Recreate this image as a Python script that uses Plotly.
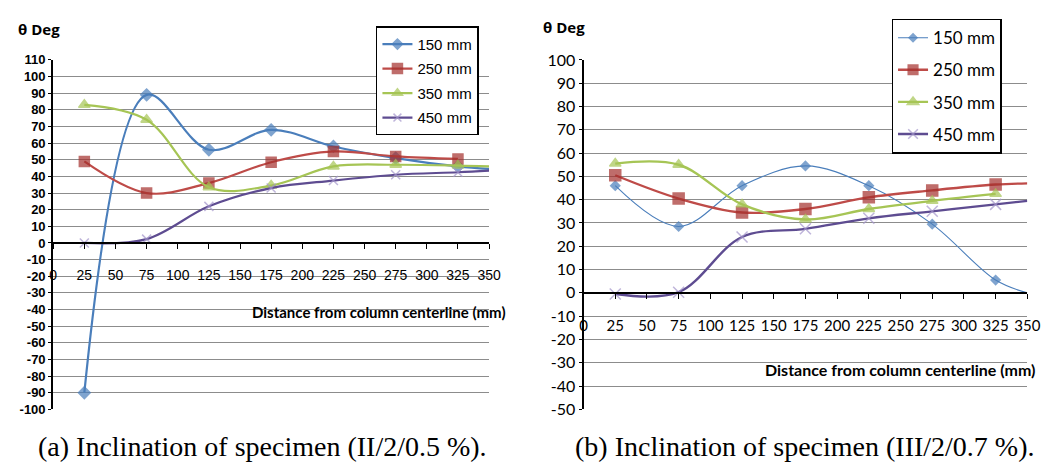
import plotly.graph_objects as go

# Distance from column centerline (mm)
dist = [25, 75, 125, 175, 225, 275, 325, 350]

# (a) specimen II/2/0.5 %  — inclination in degrees
a_150 = [-90, 89, 56, 68, 58, 51, 46, 44.5]
a_250 = [49, 30, 36, 48.5, 55, 52, 50.5]
a_350 = [83, 74, 33.5, 34.5, 46, 47, 46.5, 46]
a_450 = [0, 2.3, 22, 33, 37.5, 41, 42.5, 43.5]

# (b) specimen III/2/0.7 %
b_150 = [46, 28.5, 46, 54.5, 46, 29.5, 5.5, 0]
b_250 = [50.5, 40.5, 34.5, 36, 41, 44, 46.5, 47]
b_350 = [55.5, 55, 38, 31.5, 36, 39.5, 42.5]
b_450 = [-0.5, 0.3, 24, 27.5, 32, 35, 38, 39.5]

series_names = ["150 mm", "250 mm", "350 mm", "450 mm"]
x_ticks = list(range(0, 351, 25))
a_yticks = list(range(-100, 111, 10))
b_yticks = list(range(-50, 101, 10))
a_ylabels = [str(v) for v in a_yticks]
b_ylabels = [str(v) for v in b_yticks]

W, H = 1060, 475
BLUE, RED, GREEN, PURPLE = "#4A7EBB", "#BE4B48", "#A6C555", "#5E4C91"
RED_MK, PURPLE_MK = "#A5302D", "#A597CC"
ARIAL = "Liberation Sans, Arial, sans-serif"
SANS = "Lato, Open Sans, sans-serif"


def px_y(p):
    return 1 - p / H


def px_x(p):
    return p / W


def sizes(n_total, s, n_marked=7):
    # markers only at measured stations; the end point carries the line to the axis end
    return [s if i < n_marked else 0 for i in range(n_total)]


fig = go.Figure()

styles_a = [
    (a_150, BLUE, BLUE, "diamond", 9, 2.2),
    (a_250, RED, RED_MK, "square", 10, 2.2),
    (a_350, GREEN, GREEN, "triangle-up", 10, 2.2),
    (a_450, PURPLE, PURPLE_MK, "x-thin", 9, 2.2),
]
styles_b = [
    (b_150, BLUE, BLUE, "diamond", 7, 1.1),
    (b_250, RED, RED_MK, "square", 11, 2.4),
    (b_350, GREEN, GREEN, "triangle-up", 10, 2.4),
    (b_450, PURPLE, PURPLE_MK, "x-thin", 11, 2.4),
]

for name, (vals, lc, mc, sym, ms, lw) in zip(series_names, styles_a):
    fig.add_trace(go.Scatter(
        x=dist[:len(vals)], y=vals, name=name, mode="lines+markers",
        line=dict(color=lc, width=lw, shape="spline", smoothing=1.0),
        marker=dict(symbol=sym, color=mc, size=sizes(len(vals), ms),
                    line=dict(color=mc, width=1.5)),
        xaxis="x", yaxis="y", legend="legend", legendgroup="a" + name,
    ))

for name, (vals, lc, mc, sym, ms, lw) in zip(series_names, styles_b):
    fig.add_trace(go.Scatter(
        x=dist[:len(vals)], y=vals, name=name, mode="lines+markers",
        line=dict(color=lc, width=lw, shape="spline", smoothing=1.0),
        marker=dict(symbol=sym, color=mc, size=sizes(len(vals), ms),
                    line=dict(color=mc, width=1.5)),
        xaxis="x2", yaxis="y2", legend="legend2", legendgroup="b" + name,
    ))

y_dom = [px_y(416), px_y(52)]
a_rng = [-100, 110]
b_rng = [-50, 100]


def zero_pos(rng):
    return y_dom[0] + (0 - rng[0]) / (rng[1] - rng[0]) * (y_dom[1] - y_dom[0])


grid = dict(showgrid=True, gridcolor="#8C8C8C", gridwidth=1.4)

fig.update_layout(
    width=W, height=H,
    margin=dict(l=0, r=0, t=0, b=0),
    paper_bgcolor="white", plot_bgcolor="white",
    xaxis=dict(domain=[px_x(50), px_x(493)], range=[0, 350], tickvals=x_ticks,
               anchor="free", position=zero_pos(a_rng), showgrid=False,
               showline=True, linecolor="black", linewidth=2,
               ticks="outside", ticklen=5, tickcolor="black", tickwidth=1,
               ticklabelstandoff=14,
               tickfont=dict(family=ARIAL, size=14, color="black")),
    yaxis=dict(domain=y_dom, range=a_rng, tickvals=a_yticks, ticktext=a_ylabels,
               **grid, zeroline=False, showline=True, linecolor="black", linewidth=2,
               ticks="outside", ticklen=3, tickcolor="black",
               tickfont=dict(family=ARIAL, size=13, color="black", weight="bold")),
    xaxis2=dict(domain=[px_x(589), px_x(1040)], range=[0, 350], tickvals=x_ticks,
                anchor="free", position=zero_pos(b_rng), showgrid=False,
                showline=True, linecolor="black", linewidth=2,
                ticks="outside", ticklen=5, tickcolor="black", tickwidth=1,
                ticklabelstandoff=14,
                tickfont=dict(family=SANS, size=15, color="black")),
    yaxis2=dict(domain=y_dom, range=b_rng, tickvals=b_yticks, ticktext=b_ylabels,
                **grid, zeroline=False, showline=True, linecolor="black", linewidth=2,
                anchor="x2", ticks="outside", ticklen=3, tickcolor="black",
                tickfont=dict(family=SANS, size=16, color="black")),
    legend=dict(x=px_x(378), y=px_y(17), xanchor="left", yanchor="top",
                bgcolor="white", bordercolor="black", borderwidth=1.5,
                tracegroupgap=2,
                font=dict(family=ARIAL, size=15, color="black")),
    legend2=dict(x=px_x(902), y=px_y(9), xanchor="left", yanchor="top",
                 bgcolor="white", bordercolor="black", borderwidth=1.5,
                 tracegroupgap=7,
                 font=dict(family=SANS, size=17, color="black")),
    showlegend=True,
)

# axis captions and sub-figure titles
notes = [
    (12, 20, "θ Deg", dict(family="Open Sans, sans-serif", size=15, color="black", weight="bold"), "left"),
    (546, 18, "θ Deg", dict(family="Open Sans, sans-serif", size=15, color="black", weight="bold"), "left"),
    (512, 315, "Distance from column centerline (mm)",
     dict(family=SANS, size=15, color="black", weight="bold"), "right"),
    (1050, 374, "Distance from column centerline (mm)",
     dict(family=SANS, size=16, color="black", weight="bold"), "right"),
    (33, 455, "(a) Inclination of specimen (II/2/0.5 %).",
     dict(family="Liberation Serif, serif", size=28, color="black"), "left"),
    (578, 455, "(b) Inclination of specimen (III/2/0.7 %).",
     dict(family="Liberation Serif, serif", size=28, color="black"), "left"),
]
for x, y, t, f, anc in notes:
    fig.add_annotation(x=px_x(x), y=px_y(y), xref="paper", yref="paper", text=t,
                       showarrow=False, xanchor=anc, yanchor="middle", font=f)

fig.write_html("out.html")
